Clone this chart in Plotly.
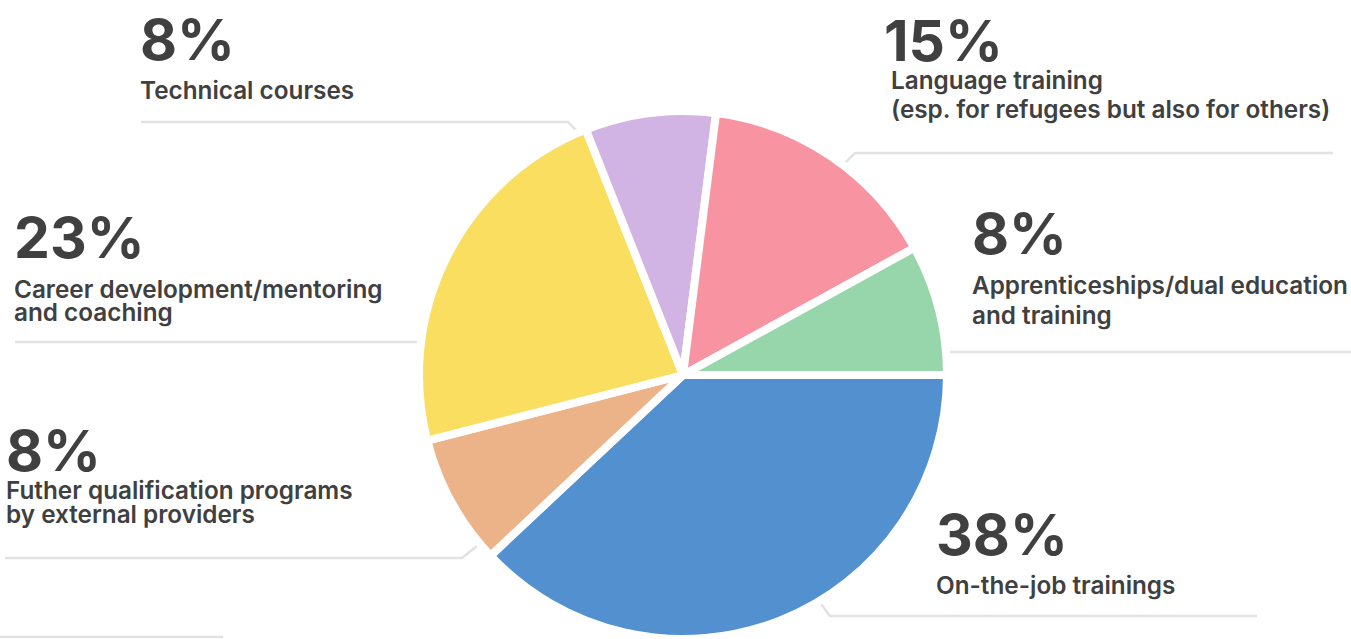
import plotly.graph_objects as go

# Training formats offered, with their share of responses
categories = [
    "On-the-job trainings",
    "Futher qualification programs by external providers",
    "Career development/mentoring and coaching",
    "Technical courses",
    "Language training (esp. for refugees but also for others)",
    "Apprenticeships/dual education and training",
]
shares = [38, 8, 23, 8, 15, 8]
pct_labels = [f"{v}%" for v in shares]

# Caption lines shown under each percentage
caption_lines = [
    ["On-the-job trainings"],
    ["Futher qualification programs", "by external providers"],
    ["Career development/mentoring", "and coaching"],
    ["Technical courses"],
    ["Language training", "(esp. for refugees but also for others)"],
    ["Apprenticeships/dual education", "and training"],
]

slice_colors = ["#5390cf", "#ebb387", "#f9de60", "#d1b4e3", "#f893a2", "#97d6aa"]

W, H = 1351, 639
TEXT = "#404040"
FONT = "Inter"
P_SIZE = 57
L_SIZE = 24.3
DESC = 0.242  # font descent as a fraction of size

# Label block layout (pixels): left x, percent baseline, caption baselines
blocks = [
    dict(x=937, pb=554, cb=[593]),
    dict(x=7, pb=470, cb=[498, 522]),
    dict(x=15, pb=257, cb=[297, 320]),
    dict(x=141, pb=59, cb=[98]),
    dict(x=885, pb=60, cb=[88, 117], cx=892),
    dict(x=973, pb=253, cb=[293, 323]),
]

# Leader lines (pixels)
leaders = [
    [(1257, 616), (830, 616), (812, 592)],
    [(5, 558), (462, 558), (482, 542)],
    [(15, 342), (450, 342)],
    [(141, 122), (568, 122), (588, 142)],
    [(1333, 153), (855, 153), (832, 176)],
    [(1351, 352), (920, 352)],
    [(0, 637), (223, 637)],
]


def px(x):
    return x / W


def py(y):
    return 1 - y / H


fig = go.Figure()

R = 264
cx, cy = 683, 375
fig.add_trace(
    go.Pie(
        labels=categories,
        values=shares,
        sort=False,
        direction="clockwise",
        rotation=90,
        textinfo="none",
        hoverinfo="label+percent",
        marker=dict(colors=slice_colors, line=dict(color="white", width=8)),
        domain=dict(x=[px(cx - R), px(cx + R)], y=[py(cy + R), py(cy - R)]),
        showlegend=False,
    )
)

shapes = []
for pts in leaders:
    path = "M " + " L ".join(f"{px(x)},{py(y)}" for x, y in pts)
    shapes.append(
        dict(type="path", path=path, xref="paper", yref="paper",
             line=dict(color="#e2e2e2", width=2.5), layer="below")
    )

annotations = []
for b, pct, lines in zip(blocks, pct_labels, caption_lines):
    annotations.append(
        dict(text=pct, x=px(b["x"] - 1), y=py(b["pb"] + DESC * P_SIZE + 1),
             xref="paper", yref="paper", xanchor="left", yanchor="bottom",
             showarrow=False, borderpad=0, borderwidth=0,
             font=dict(family=FONT, size=P_SIZE, color=TEXT, weight=700))
    )
    lx = b.get("cx", b["x"])
    for line, base in zip(lines, b["cb"]):
        annotations.append(
            dict(text=line, x=px(lx - 1), y=py(base + DESC * L_SIZE + 1),
                 xref="paper", yref="paper", xanchor="left", yanchor="bottom",
                 showarrow=False, borderpad=0, borderwidth=0,
                 font=dict(family=FONT, size=L_SIZE, color=TEXT, weight=600))
        )

fig.update_layout(
    width=W,
    height=H,
    margin=dict(l=0, r=0, t=0, b=0),
    paper_bgcolor="white",
    plot_bgcolor="white",
    shapes=shapes,
    annotations=annotations,
)

fig.write_html("out.html")
